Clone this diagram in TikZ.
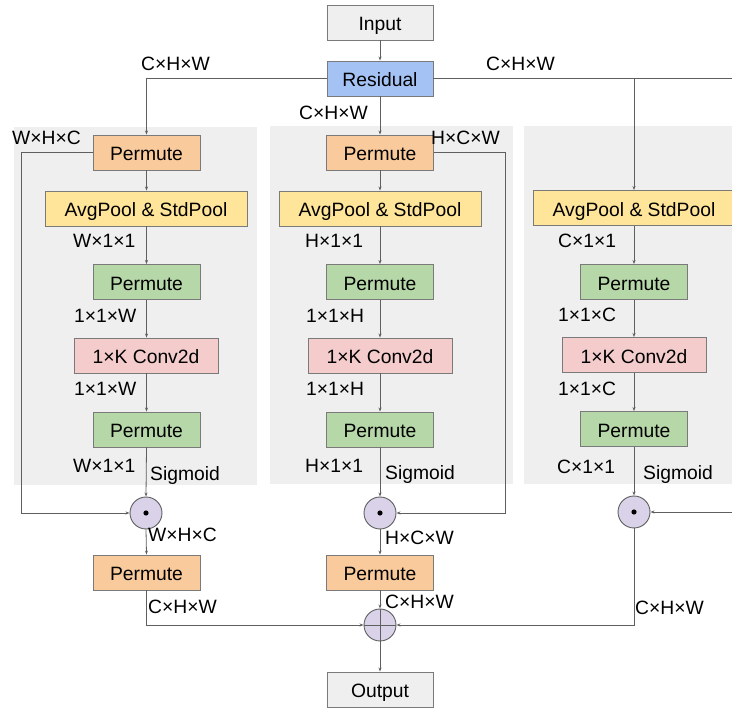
\documentclass[tikz,border=0pt]{standalone}
\usepackage{fontspec}
\setmainfont{Liberation Sans}
\usetikzlibrary{arrows.meta}
\definecolor{inbox}{HTML}{EFEFEF}
\definecolor{resbox}{HTML}{A4C2F4}
\definecolor{orbox}{HTML}{F9CB9C}
\definecolor{yebox}{HTML}{FFE599}
\definecolor{grbox}{HTML}{B6D7A8}
\definecolor{pkbox}{HTML}{F4CCCC}
\definecolor{panelc}{HTML}{EFEFEF}
\definecolor{circc}{HTML}{D9D2E9}
\definecolor{edgec}{HTML}{7A7A7A}
\definecolor{linec}{HTML}{5F5F5F}
\tikzset{
  base/.style={draw=edgec, line width=0.9pt, inner sep=0pt, minimum height=35pt,
    text height=17pt, text depth=0pt,
    font=\fontsize{19.3}{22}\selectfont},
  ibox/.style={base, fill=inbox, minimum width=106pt},
  rbox/.style={base, fill=resbox, minimum width=106pt},
  obox/.style={base, fill=orbox, minimum width=107pt},
  ybox/.style={base, fill=yebox, minimum width=202pt},
  gbox/.style={base, fill=grbox, minimum width=107pt},
  kbox/.style={base, fill=pkbox, minimum width=144pt},
  opc/.style={circle, draw=linec, line width=0.9pt, fill=circc, minimum size=32pt, inner sep=0pt},
  conn/.style={draw=linec, line width=0.8pt},
  arr/.style={conn, -{Stealth[length=4pt,width=3pt]}},
  lab/.style={anchor=base west, inner sep=0pt, font=\fontsize{19.3}{22}\selectfont},
  panel/.style={fill=panelc, draw=none}
}
\begin{document}
\begin{tikzpicture}[x=1pt,y=-1pt]
\useasboundingbox (0,0) rectangle (732,708);
\begin{scope}
\clip (0,0) rectangle (732,708);
% panels
\fill[panel] (14,127) rectangle (257,485);
\fill[panel] (270,126) rectangle (513,484);
\fill[panel] (524,126) rectangle (740,484);

% top
\node[ibox] (input) at (380,22.5) {Input};
\node[rbox] (res) at (380,78.5) {Residual};

% column 1
\node[obox] (p1a) at (146.5,152.5) {Permute};
\node[ybox] (av1) at (146,208.5) {AvgPool \& StdPool};
\node[gbox] (g1a) at (146.5,282) {Permute};
\node[kbox] (cv1) at (146,355.5) {1×K Conv2d};
\node[gbox] (g1b) at (146.5,429.5) {Permute};
\node[opc] (c1) at (146,513) {};
\node[obox] (p1c) at (146.5,572.5) {Permute};

% column 2
\node[obox] (p2a) at (380,152.5) {Permute};
\node[ybox] (av2) at (380,208.5) {AvgPool \& StdPool};
\node[gbox] (g2a) at (380,282) {Permute};
\node[kbox] (cv2) at (380,355.5) {1×K Conv2d};
\node[gbox] (g2b) at (380,429.5) {Permute};
\node[opc] (c2) at (380,513) {};
\node[obox] (p2c) at (380,572.5) {Permute};
\node[opc] (plus) at (380,625) {};
\node[ibox] (out) at (380,689.5) {Output};

% column 3
\node[ybox] (av3) at (634,208) {AvgPool \& StdPool};
\node[gbox] (g3a) at (634,282) {Permute};
\node[kbox] (cv3) at (634,355) {1×K Conv2d};
\node[gbox] (g3b) at (634,429) {Permute};
\node[opc] (c3) at (634,512) {};

% helper coordinates
\coordinate (eR) at (732,78.5);
\coordinate (l1) at (21,513);
\coordinate (r2) at (505,513);
\coordinate (eR3) at (732,512);

% dots and plus
\foreach \c in {c1,c2,c3} \fill (\c) circle (2.6pt);
\draw[conn] (plus.north) -- (plus.south);
\draw[conn] (plus.west) -- (plus.east);

% connectors
\draw[arr] (input) -- (res);
\draw[arr] (res.west) -| (p1a.north);
\draw[arr] (res.east) -| (av3.north);
\draw[conn] (res.east -| av3.north) -- (eR);
\draw[arr] (res) -- (p2a);

\draw[arr] (p1a) -- (av1.north -| p1a.south);
\draw[arr] (av1.south -| g1a.north) -- (g1a);
\draw[arr] (g1a) -- (cv1.north -| g1a.south);
\draw[arr] (cv1.south -| g1b.north) -- (g1b);
\draw[arr] (g1b.south) -- (c1.north);
\draw[arr] (p1a.west) -| (l1) -- (c1.west);
\draw[arr] (c1.south) -- (p1c.north);
\draw[arr] (p1c.south) |- (plus.west);

\draw[arr] (p2a) -- (av2);
\draw[arr] (av2) -- (g2a);
\draw[arr] (g2a) -- (cv2);
\draw[arr] (cv2) -- (g2b);
\draw[arr] (g2b) -- (c2);
\draw[arr] (p2a.east) -| (r2) -- (c2.east);
\draw[arr] (c2) -- (p2c);
\draw[arr] (p2c) -- (plus);
\draw[arr] (plus) -- (out);

\draw[arr] (av3) -- (g3a);
\draw[arr] (g3a) -- (cv3);
\draw[arr] (cv3) -- (g3b);
\draw[arr] (g3b) -- (c3);
\draw[arr] (eR3) -- (c3.east);
\draw[arr] (c3.south) |- (plus.east);

% labels
\node[lab] (t1) at (141,71) {C×H×W};
\node[lab] (t2) at (299,120) {C×H×W};
\node[lab] (t3) at (486,71) {C×H×W};
\node[lab] (t4) at (12,145) {W×H×C};
\node[lab] (t5) at (431,145) {H×C×W};

\node[lab] (a1) at (73,248) {W×1×1};
\node[lab] (a2) at (74,323) {1×1×W};
\node[lab] (a3) at (74,396) {1×1×W};
\node[lab] (a4) at (73,473) {W×1×1};
\node[lab] (a5) at (150,481) {Sigmoid};

\node[lab] (b1) at (305,248) {H×1×1};
\node[lab] (b2) at (306,323) {1×1×H};
\node[lab] (b3) at (306,396) {1×1×H};
\node[lab] (b4) at (305,473) {H×1×1};
\node[lab] (b5) at (385,480) {Sigmoid};

\node[lab] (d1) at (558,248) {C×1×1};
\node[lab] (d2) at (558,322) {1×1×C};
\node[lab] (d3) at (558,396) {1×1×C};
\node[lab] (d4) at (557,474) {C×1×1};
\node[lab] (d5) at (643,480) {Sigmoid};

\node[lab] (e1) at (148,542) {W×H×C};
\node[lab] (e2) at (148,614) {C×H×W};
\node[lab] (e3) at (385,545) {H×C×W};
\node[lab] (e4) at (385,609) {C×H×W};
\node[lab] (e5) at (635,615) {C×H×W};
\end{scope}
\end{tikzpicture}
\end{document}
